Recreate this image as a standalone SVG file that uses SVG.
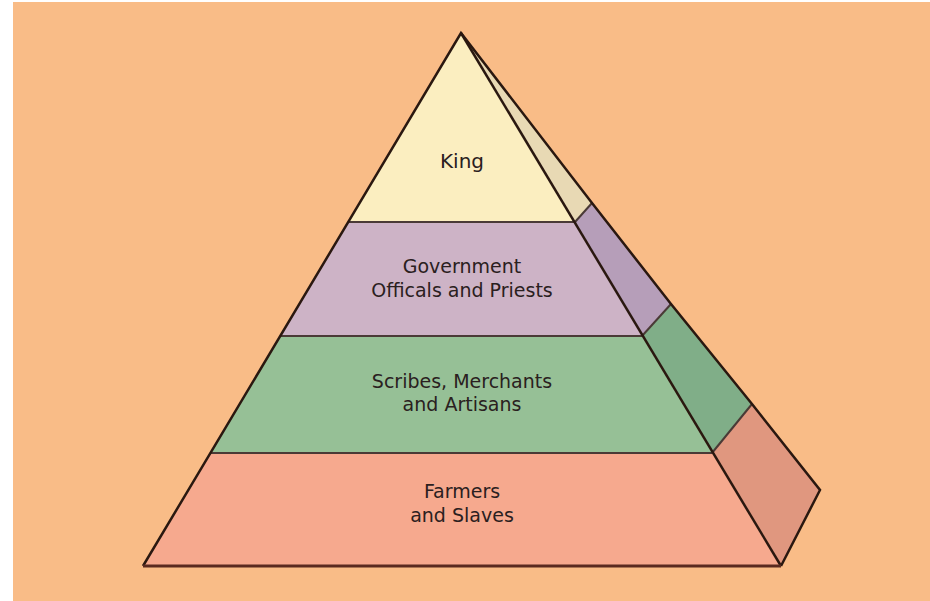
<svg xmlns="http://www.w3.org/2000/svg" width="930" height="601" viewBox="0 0 930 601">
<style>
.lbl{font-family:"DejaVu Sans","Liberation Sans",sans-serif;font-size:19px;fill:#2a2020;text-anchor:middle}
.div{stroke:#4a3a36;stroke-width:2;fill:none}
.edge{stroke:#2a1810;stroke-width:2.5;fill:none;stroke-linejoin:miter}
</style>
<rect x="0" y="0" width="930" height="601" fill="#ffffff"/>
<rect x="13" y="2" width="917" height="599" fill="#F9BC87"/>
<g id="king">
<polygon points="461,33 575,222 348,222" fill="#FBEEC0"/>
<polygon points="461,33 592,203 575,222" fill="#E8D9B4"/>
<text class="lbl" x="462" y="168" style="font-size:20px">King</text>
</g>
<g id="government">
<polygon points="348,222 575,222 642,336 280,336" fill="#CDB3C6"/>
<polygon points="575,222 592,203 671,304 642,336" fill="#B69EB9"/>
<text class="lbl" x="462" y="273">Government</text>
<text class="lbl" x="462" y="297">Officals and Priests</text>
</g>
<g id="scribes">
<polygon points="280,336 642,336 712,453 210,453" fill="#96C096"/>
<polygon points="642,336 671,304 752,404 712,453" fill="#80AE88"/>
<text class="lbl" x="462" y="388">Scribes, Merchants</text>
<text class="lbl" x="462" y="411">and Artisans</text>
</g>
<g id="farmers">
<polygon points="210,453 712,453 781,566 143,566" fill="#F6A98E"/>
<polygon points="712,453 752,404 820,490 781,566" fill="#E0977F"/>
<text class="lbl" x="462" y="498">Farmers</text>
<text class="lbl" x="462" y="522">and Slaves</text>
</g>
<g id="connectors">
<line class="div" x1="348" y1="222" x2="575" y2="222"/>
<line class="div" x1="280" y1="336" x2="642" y2="336"/>
<line class="div" x1="210" y1="453" x2="712" y2="453" stroke="#5a4030"/>
<line class="div" x1="575" y1="222" x2="592" y2="203" stroke="#2a1810"/>
<line class="div" x1="642" y1="336" x2="671" y2="304" stroke="#2a1810"/>
<line class="div" x1="712" y1="453" x2="752" y2="404" stroke="#2a1810"/>
<line class="edge" x1="461" y1="33" x2="781" y2="566" stroke-width="2"/>
<polyline class="edge" points="143,566 461,33 592,203 671,304 752,404 820,490 781,566"/>
<line x1="143" y1="566" x2="781" y2="566" stroke="#5a2a20" stroke-width="3"/>
</g>
</svg>
